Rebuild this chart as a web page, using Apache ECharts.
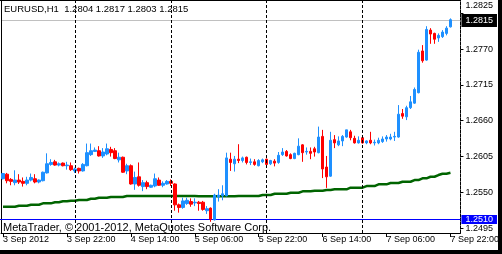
<!DOCTYPE html>
<html><head><meta charset="utf-8">
<script src="https://cdn.jsdelivr.net/npm/echarts@6/dist/echarts.min.js"></script>
<style>html,body{margin:0;padding:0;background:#fff;}#c{width:502px;height:254px;}</style>
</head><body><div id="c"></div>
<script>
const symbolName = 'EURUSD';
const timeframe = 'H1';
const copyright = 'MetaTrader, \u00A9 2001-2012, MetaQuotes Software Corp.';
const tickIndex = [0, 16, 32, 48, 64, 80, 96, 112];
const tickLabels = ['3 Sep 2012', '3 Sep 22:00', '4 Sep 14:00', '5 Sep 06:00', '5 Sep 22:00', '6 Sep 14:00', '7 Sep 06:00', '7 Sep 22:00'];
const separators = [18, 42, 66, 90];
const priceTicks = [1.2495, 1.2550, 1.2605, 1.2660, 1.2715, 1.2770, 1.2825];
const bidPrice = 1.2815;
const levelPrice = 1.2510;

const opens = [1.2571,1.2578,1.2570,1.2565,1.2569,1.2567,1.2564,1.2569,1.2571,1.2566,
1.2568,1.2580,1.2593,1.2597,1.2592,1.2595,1.2591,1.2591,1.2583,1.2587,
1.2583,1.2591,1.2608,1.2613,1.2614,1.2606,1.2609,1.2616,1.2614,1.2600,
1.2604,1.2583,1.2591,1.2563,1.2574,1.2559,1.2565,1.2558,1.2560,1.2569,
1.2561,1.2563,1.2567,1.2563,1.2531,1.2527,1.2533,1.2536,1.2534,1.2535,
1.2535,1.2522,1.2526,1.2508,1.2543,1.2545,1.2545,1.2601,1.2594,1.2601,
1.2599,1.2604,1.2596,1.2597,1.2591,1.2597,1.2601,1.2594,1.2598,1.2596,
1.2608,1.2613,1.2608,1.2602,1.2608,1.2623,1.2612,1.2613,1.2617,1.2611,
1.2636,1.2589,1.2575,1.2631,1.2623,1.2629,1.2635,1.2643,1.2633,1.2626,
1.2634,1.2626,1.2630,1.2626,1.2626,1.2628,1.2632,1.2632,1.2635,1.2635,
1.2671,1.2666,1.2680,1.2687,1.2703,1.2767,1.2753,1.2799,1.2794,1.2787,
1.2789,1.2794,1.2804];
const highs = [1.2580,1.2580,1.2572,1.2584,1.2578,1.2573,1.2574,1.2579,1.2578,1.2570,
1.2582,1.2610,1.2601,1.2600,1.2596,1.2596,1.2597,1.2596,1.2588,1.2588,
1.2595,1.2625,1.2625,1.2619,1.2621,1.2618,1.2625,1.2620,1.2618,1.2611,
1.2605,1.2594,1.2593,1.2582,1.2596,1.2569,1.2568,1.2562,1.2579,1.2573,
1.2567,1.2569,1.2570,1.2564,1.2533,1.2542,1.2542,1.2541,1.2541,1.2537,
1.2537,1.2529,1.2527,1.2548,1.2555,1.2561,1.2611,1.2611,1.2606,1.2624,
1.2605,1.2605,1.2602,1.2601,1.2601,1.2602,1.2602,1.2600,1.2601,1.2612,
1.2618,1.2615,1.2610,1.2611,1.2633,1.2624,1.2619,1.2619,1.2620,1.2651,
1.2646,1.2606,1.2643,1.2638,1.2636,1.2638,1.2646,1.2646,1.2637,1.2636,
1.2635,1.2630,1.2643,1.2631,1.2634,1.2636,1.2638,1.2640,1.2643,1.2684,
1.2678,1.2683,1.2698,1.2711,1.2769,1.2776,1.2805,1.2802,1.2795,1.2794,
1.2799,1.2805,1.2817];
const lows = [1.2570,1.2564,1.2561,1.2561,1.2563,1.2559,1.2561,1.2567,1.2564,1.2564,
1.2567,1.2579,1.2591,1.2591,1.2590,1.2590,1.2585,1.2583,1.2580,1.2579,
1.2582,1.2590,1.2606,1.2612,1.2605,1.2603,1.2607,1.2605,1.2601,1.2596,
1.2580,1.2578,1.2562,1.2554,1.2559,1.2552,1.2555,1.2557,1.2558,1.2560,
1.2558,1.2562,1.2560,1.2522,1.2519,1.2525,1.2531,1.2528,1.2529,1.2522,
1.2522,1.2517,1.2505,1.2507,1.2536,1.2538,1.2544,1.2583,1.2582,1.2595,
1.2596,1.2593,1.2592,1.2591,1.2590,1.2595,1.2591,1.2592,1.2590,1.2594,
1.2606,1.2605,1.2601,1.2601,1.2607,1.2597,1.2608,1.2601,1.2605,1.2610,
1.2572,1.2557,1.2574,1.2618,1.2621,1.2621,1.2634,1.2630,1.2625,1.2625,
1.2625,1.2624,1.2624,1.2622,1.2624,1.2626,1.2628,1.2630,1.2629,1.2634,
1.2663,1.2661,1.2678,1.2686,1.2702,1.2749,1.2752,1.2778,1.2778,1.2781,
1.2787,1.2791,1.2803];
const closes = [1.2579,1.2568,1.2567,1.2569,1.2566,1.2564,1.2569,1.2573,1.2566,1.2569,
1.2581,1.2594,1.2596,1.2592,1.2594,1.2591,1.2592,1.2585,1.2586,1.2583,
1.2593,1.2611,1.2614,1.2615,1.2606,1.2612,1.2617,1.2611,1.2602,1.2604,
1.2581,1.2591,1.2563,1.2573,1.2561,1.2565,1.2559,1.2561,1.2571,1.2561,
1.2564,1.2567,1.2564,1.2531,1.2527,1.2537,1.2538,1.2532,1.2535,1.2533,
1.2524,1.2525,1.2509,1.2546,1.2546,1.2548,1.2603,1.2596,1.2601,1.2599,
1.2603,1.2596,1.2597,1.2593,1.2599,1.2600,1.2593,1.2599,1.2595,1.2607,
1.2612,1.2606,1.2602,1.2610,1.2621,1.2611,1.2613,1.2610,1.2612,1.2635,
1.2586,1.2574,1.2630,1.2626,1.2629,1.2636,1.2646,1.2634,1.2626,1.2630,
1.2626,1.2629,1.2626,1.2627,1.2630,1.2632,1.2635,1.2635,1.2636,1.2670,
1.2667,1.2680,1.2689,1.2708,1.2765,1.2752,1.2800,1.2793,1.2785,1.2791,
1.2796,1.2802,1.2815];
const maValues = [1.25281,1.25281,1.25281,1.25281,1.25297,1.25297,1.25297,1.25312,1.25312,1.25312,
1.25333,1.25333,1.25333,1.25349,1.25349,1.25364,1.25364,1.25373,1.25373,1.25384,
1.25384,1.25384,1.25404,1.25404,1.25419,1.25419,1.25419,1.25430,1.25430,1.25430,
1.25430,1.25445,1.25445,1.25445,1.25445,1.25445,1.25445,1.25445,1.25445,1.25445,
1.25445,1.25445,1.25445,1.25445,1.25445,1.25445,1.25445,1.25445,1.25445,1.25440,
1.25440,1.25440,1.25440,1.25440,1.25440,1.25440,1.25440,1.25440,1.25440,1.25445,
1.25445,1.25445,1.25445,1.25445,1.25445,1.25461,1.25461,1.25461,1.25481,1.25481,
1.25481,1.25481,1.25496,1.25496,1.25496,1.25517,1.25517,1.25517,1.25526,1.25526,
1.25526,1.25537,1.25537,1.25548,1.25548,1.25548,1.25548,1.25573,1.25573,1.25573,
1.25573,1.25598,1.25598,1.25598,1.25624,1.25624,1.25624,1.25644,1.25644,1.25644,
1.25664,1.25664,1.25664,1.25690,1.25690,1.25716,1.25716,1.25741,1.25741,1.25767,
1.25787,1.25787,1.25802];

function fontAvailable(name) {
  const ctx = document.createElement('canvas').getContext('2d');
  const s = '3 Sep 22:00 1.2345 EURUSD';
  ctx.font = '40px monospace'; const a = ctx.measureText(s).width;
  ctx.font = '40px "' + name + '", monospace'; const b = ctx.measureText(s).width;
  return Math.abs(a - b) > 0.5;
}
const narrow = fontAvailable('Liberation Sans Narrow');
const axisFamily = narrow ? 'Liberation Sans Narrow' : 'Liberation Sans';
const axisSize = narrow ? 11 : 9;
const titleSize = narrow ? 11.5 : 9.5;

const nBars = opens.length;
const nSlots = nBars + 2;
const cats = [];
for (let i = 0; i < nSlots; i++) {
  const d = new Date(Date.UTC(2012, 8, 3, 6 + i));
  cats.push(d.toISOString().slice(0, 16).replace('T', ' '));
}
const candles = [];
const ma = [];
for (let i = 0; i < nSlots; i++) {
  if (i < nBars) { candles.push([opens[i], closes[i], lows[i], highs[i]]); ma.push(maValues[i]); }
  else { candles.push('-'); ma.push('-'); }
}
const last = nBars - 1;
const titleText = symbolName + ',' + timeframe + '  ' + [opens[last], highs[last], lows[last], closes[last]].map(v => v.toFixed(4)).join(' ');

const yMax = 1.28452, yMin = 1.24878;

const chart = echarts.init(document.getElementById('c'), null, {renderer: 'canvas'});
const markData = separators.map(s => ({xAxis: s, lineStyle: {color: '#000', type: [3, 2], width: 1}, label: {show: false}}));

const option = {
  animation: false,
  backgroundColor: '#fff',
  grid: {left: 1, right: 41, top: 0, bottom: 21},
  xAxis: {
    type: 'category', data: cats, boundaryGap: true,
    axisLine: {show: true, lineStyle: {color: '#000', width: 1}},
    axisTick: {show: true, alignWithLabel: true, length: 4, interval: (i) => tickIndex.includes(i), lineStyle: {color: '#000'}},
    axisLabel: {show: true, interval: (i) => tickIndex.includes(i), formatter: (v, i) => tickLabels[tickIndex.indexOf(i)] || '',
      align: 'left', margin: 3, lineHeight: 8, color: '#000', fontFamily: axisFamily, fontSize: axisSize, hideOverlap: false},
    splitLine: {show: false}
  },
  yAxis: {
    type: 'value', position: 'right', min: yMin, max: yMax,
    axisLine: {show: true, lineStyle: {color: '#000', type: [3, 1], width: 1}},
    axisTick: {show: true, customValues: priceTicks, length: 3, lineStyle: {color: '#000'}},
    axisLabel: {show: true, customValues: priceTicks, margin: 5, lineHeight: 7, color: '#000', fontFamily: axisFamily, fontSize: axisSize, hideOverlap: false,
      formatter: (v) => Math.abs(v - priceTicks[priceTicks.length - 1]) < 1e-7 ? '{up|' + v.toFixed(4) + '}' : v.toFixed(4),
      rich: {up: {padding: [0, 0, 15, 0], lineHeight: 7, color: '#000', fontFamily: axisFamily, fontSize: axisSize}}},
    splitLine: {show: false}
  },
  series: [
    {type: 'line', data: ma, symbol: 'none', lineStyle: {color: '#006400', width: 2.5}, silent: true, z: 2},
    {type: 'candlestick', data: candles, barWidth: 3, z: 3,
      itemStyle: {color: '#1e90ff', color0: '#ff0000', borderColor: '#1e90ff', borderColor0: '#ff0000', borderColorDoji: '#1e90ff', borderWidth: 1},
      markLine: {symbol: ['none', 'none'], silent: true, animation: false, data: markData}}
  ]
};
chart.setOption(option);

const rightX = chart.convertToPixel({xAxisIndex: 0}, nSlots - 1) + 2;
const yBid = Math.round(chart.convertToPixel({yAxisIndex: 0}, bidPrice)) + 0.5;
const yLvl = Math.round(chart.convertToPixel({yAxisIndex: 0}, levelPrice)) + 0.5;
const boxFont = axisSize + 'px "' + axisFamily + '"';
chart.setOption({
  graphic: [
    {type: 'line', shape: {x1: 2, y1: yBid, x2: rightX, y2: yBid}, style: {stroke: '#c0c0c0', lineWidth: 1}, silent: true, z: 1},
    {type: 'line', shape: {x1: 0, y1: yLvl, x2: rightX, y2: yLvl}, style: {stroke: '#0000ff', lineWidth: 1}, silent: true, z: 1},
    {type: 'text', style: {text: bidPrice.toFixed(4), x: rightX + 1, y: yBid, verticalAlign: 'middle', fill: '#fff', backgroundColor: '#000', padding: [2, 4, 2, 4], font: boxFont}, silent: true, z: 10},
    {type: 'text', style: {text: levelPrice.toFixed(4), x: rightX + 1, y: yLvl, verticalAlign: 'middle', fill: '#fff', backgroundColor: '#0000ff', padding: [0, 4, 0, 4], font: boxFont}, silent: true, z: 10},
    {type: 'line', shape: {x1: 0, y1: 0.5, x2: rightX, y2: 0.5}, style: {stroke: '#000', lineWidth: 1}, silent: true},
    {type: 'line', shape: {x1: 1.5, y1: 0, x2: 1.5, y2: 233}, style: {stroke: '#000', lineWidth: 1}, silent: true},
    {type: 'text', style: {text: titleText, x: 4, y: 9, verticalAlign: 'middle', fill: '#000', font: titleSize + 'px "' + axisFamily + '"'}, silent: true},
    {type: 'text', style: {text: copyright, x: 3, y: 228, verticalAlign: 'middle', fill: '#000', font: '11px "Liberation Sans"'}, silent: true},
    {type: 'rect', shape: {x: 498, y: 0, width: 4, height: 254}, style: {fill: '#000'}, silent: true, z: 20},
    {type: 'rect', shape: {x: 0, y: 250, width: 502, height: 4}, style: {fill: '#000'}, silent: true, z: 20}
  ]
});
</script></body></html>
